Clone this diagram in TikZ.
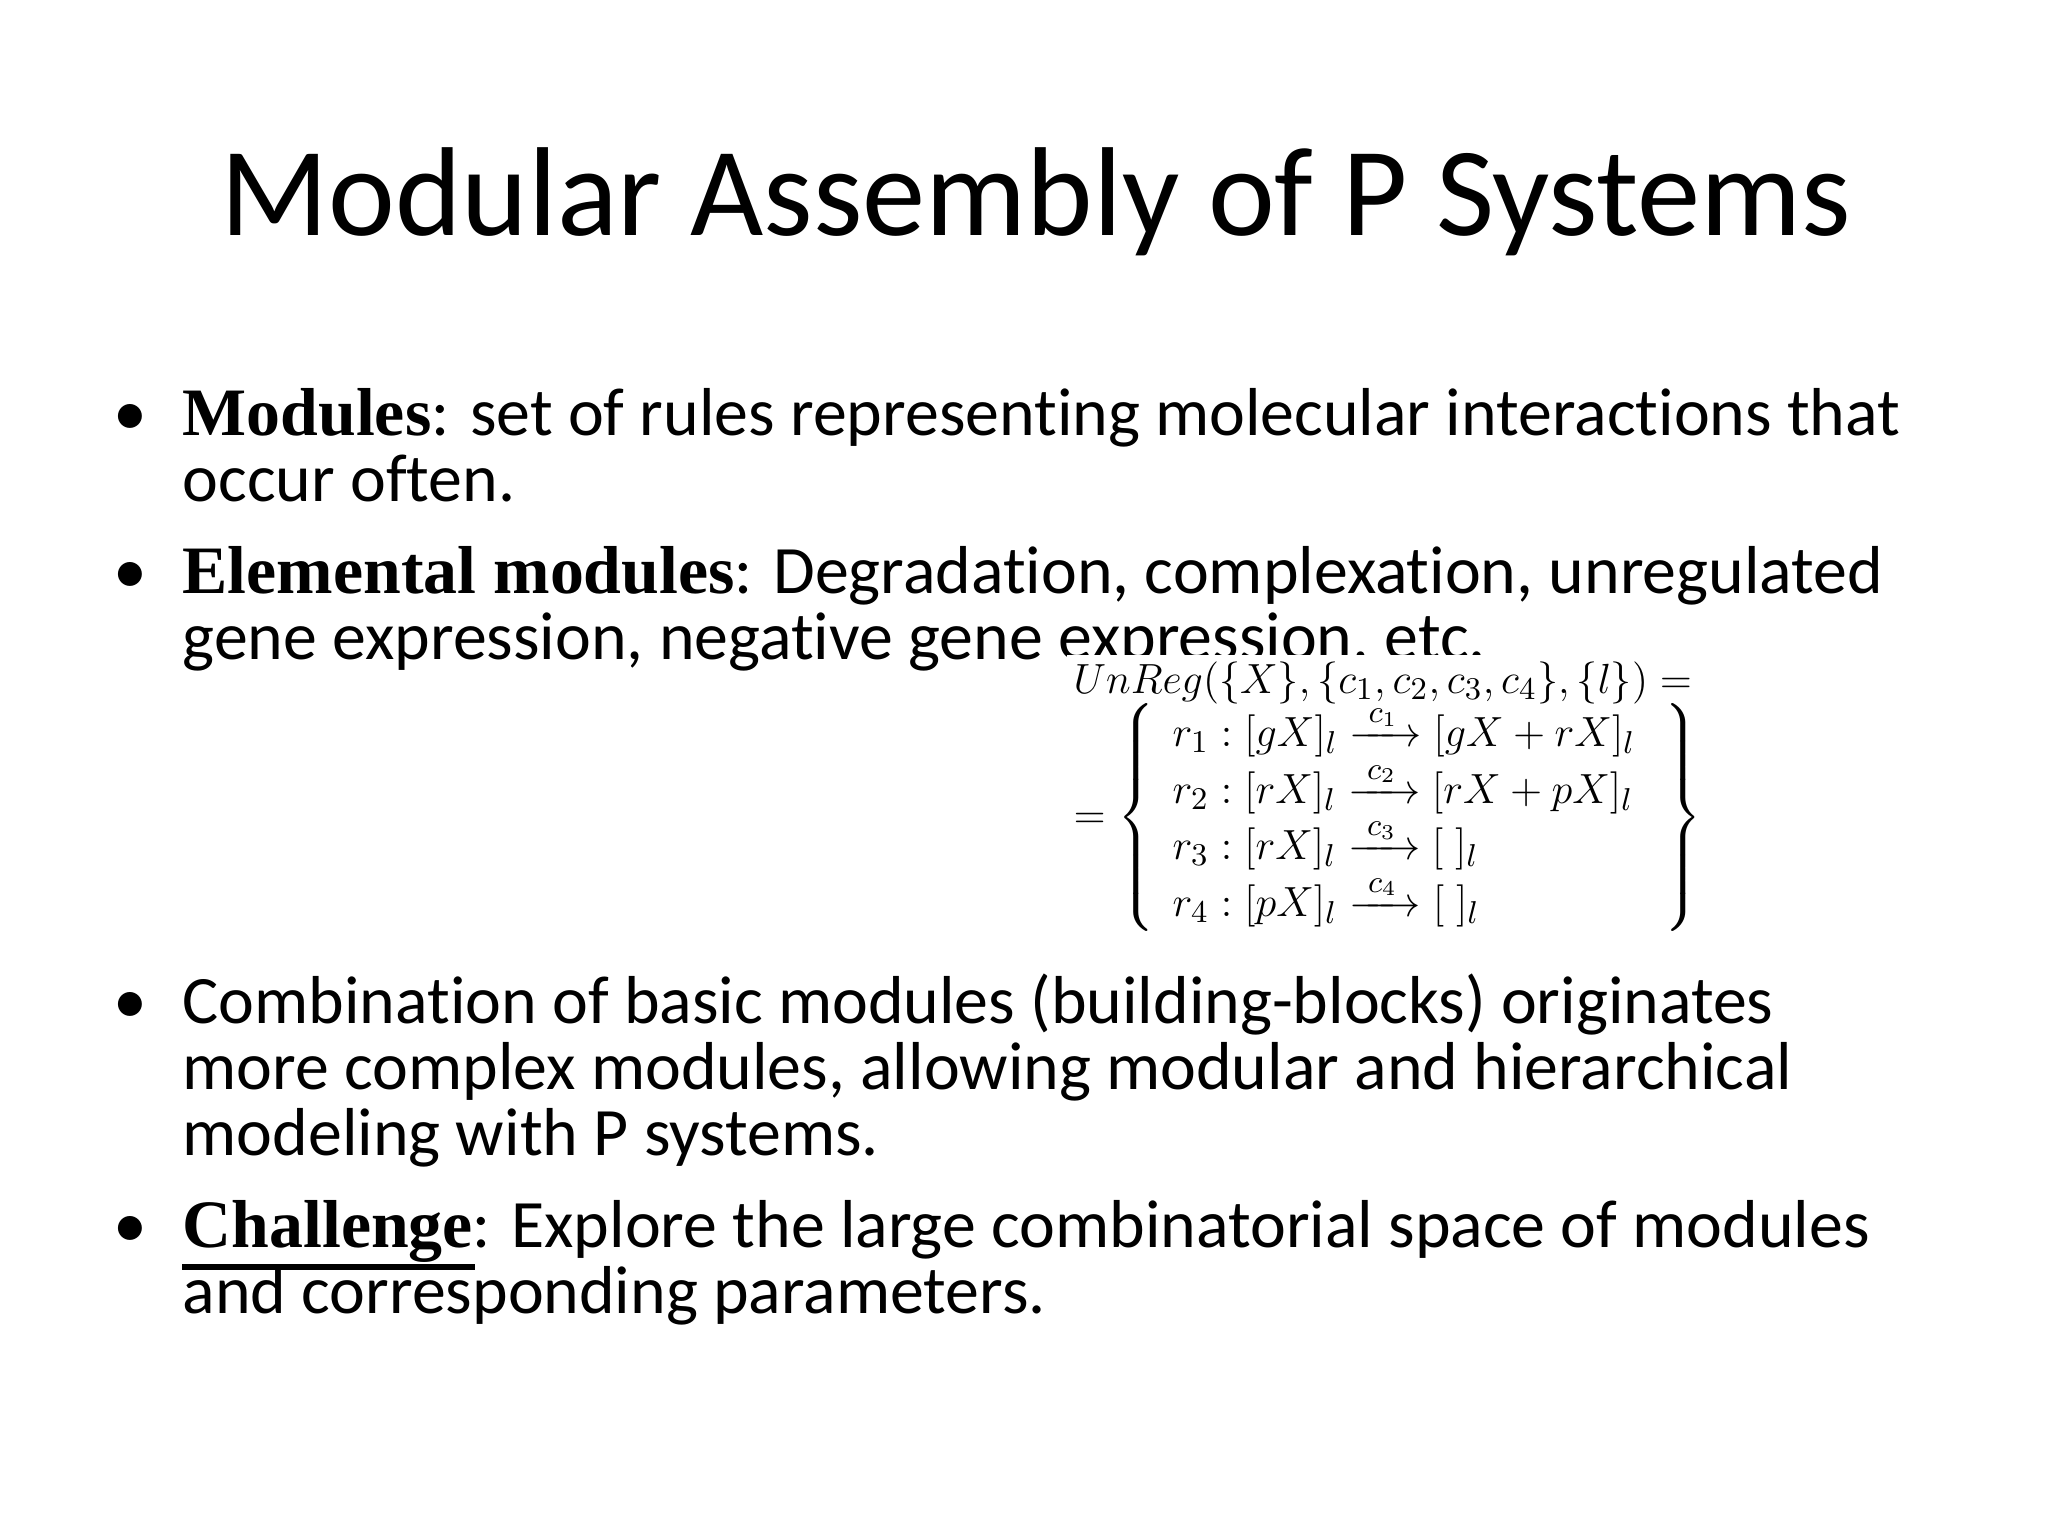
\documentclass[tikz,border=0pt]{standalone}
\usepackage{amsmath}
\usepackage{fontspec}
\setmainfont{Carlito}[RawFeature=-liga]
\newfontfamily\tb{Liberation Serif}
\begin{document}
\begin{tikzpicture}[x=1cm,y=1cm,
  body/.style={anchor=base west,inner sep=0pt,font=\fontsize{19.3}{20}\selectfont},
  dot/.style={anchor=base west,inner sep=0pt,font=\fontsize{19.3}{20}\selectfont}]
\useasboundingbox[fill=white] (0,0) rectangle (20.48,-15.36);
\node[inner sep=0pt,anchor=base,font=\fontsize{36}{40}\selectfont] (title) at (10.36,-2.36) {Modular Assembly of P Systems};
% bullet 1
\node[dot] (b1) at (1.13,-4.36) {•};
\node[body] (t1a) at (1.82,-4.36) {{\tb\bfseries Modules}: set of rules representing molecular interactions that};
\node[body] (t1b) at (1.82,-5.02) {occur often.};
% bullet 2
\node[dot] (b2) at (1.13,-5.94) {•};
\node[body] (t2a) at (1.82,-5.94) {{\tb\bfseries Elemental modules}: Degradation, complexation, unregulated};
\node[body] (t2b) at (1.82,-6.60) {gene expression, negative gene expression, etc.};
% formula
\node[anchor=north west,fill=white,inner sep=2pt,align=left,font=\fontsize{12.5}{14}\selectfont] (f) at (10.66,-6.54)
{$UnReg(\{X\},\{c_1,c_2,c_3,c_4\},\{l\}) =$\\[-1pt]
$= \left\{\begin{array}{l}
r_1 : [gX]_l \xrightarrow{\;c_1\;} [gX+rX]_l\\
r_2 : [rX]_l \xrightarrow{\;c_2\;} [rX+pX]_l\\
r_3 : [rX]_l \xrightarrow{\;c_3\;} [\;]_l\\
r_4 : [pX]_l \xrightarrow{\;c_4\;} [\;]_l
\end{array}\;\right\}$};
% bullet 3
\node[dot] (b3) at (1.13,-10.23) {•};
\node[body] (t3a) at (1.82,-10.23) {Combination of basic modules (building-blocks) originates};
\node[body] (t3b) at (1.82,-10.89) {more complex modules, allowing modular and hierarchical};
\node[body] (t3c) at (1.82,-11.55) {modeling with P systems.};
% bullet 4
\node[dot] (b4) at (1.13,-12.47) {•};
\node[body] (t4a) at (1.82,-12.47) {{\tb\bfseries Challenge}: Explore the large combinatorial space of modules};
\node[body] (t4b) at (1.82,-13.13) {and corresponding parameters.};
\coordinate (u1) at (1.82,-12.67);
\coordinate (u2) at (4.75,-12.67);
\draw[line width=1.5pt] (u1) -- (u2);
\end{tikzpicture}
\end{document}
